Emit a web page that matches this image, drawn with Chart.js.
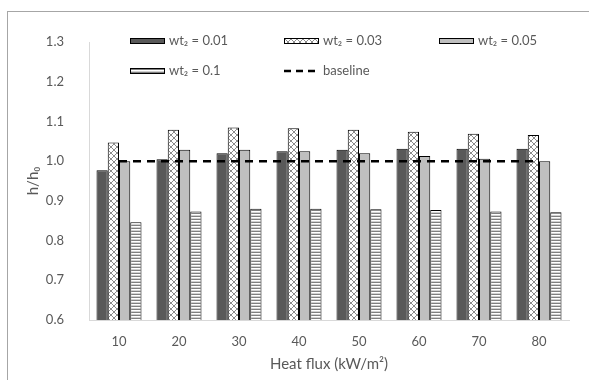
<!DOCTYPE html>
<html><head><meta charset="utf-8">
<script src="https://cdn.jsdelivr.net/npm/chart.js@4"></script>
<style>
html,body{margin:0;padding:0;overflow:hidden;background:#fff;}
#frame{position:absolute;left:7px;top:11px;width:700px;height:500px;border:1px solid #a6a6a6;}
#c{position:absolute;left:0;top:0;}
</style></head>
<body>
<div id="frame"></div>
<canvas id="c" width="589" height="380"></canvas>
<script>
const categories = ['10','20','30','40','50','60','70','80'];
const wt001 = [0.977, 1.005, 1.020, 1.025, 1.029, 1.031, 1.031, 1.031];
const wt003 = [1.047, 1.079, 1.085, 1.083, 1.079, 1.074, 1.069, 1.066];
const wt005 = [1.000, 1.029, 1.029, 1.025, 1.020, 1.013, 1.006, 1.000];
const wt01  = [0.846, 0.873, 0.880, 0.880, 0.879, 0.877, 0.873, 0.871];
const baseline = [1, 1, 1, 1, 1, 1, 1, 1];
const seriesLabels = ['wt\u2082 = 0.01','wt\u2082 = 0.03','wt\u2082 = 0.05','wt\u2082 = 0.1','baseline'];

function crossPattern(){
  const p=document.createElement('canvas');p.width=6;p.height=6;
  const g=p.getContext('2d');g.fillStyle='#fff';g.fillRect(0,0,6,6);
  g.strokeStyle='#8c8c8c';g.lineWidth=1;
  g.beginPath();g.moveTo(0,0);g.lineTo(6,6);g.moveTo(6,0);g.lineTo(0,6);g.stroke();
  return g.createPattern(p,'repeat');
}
function stripePattern(){
  const p=document.createElement('canvas');p.width=4;p.height=3;
  const g=p.getContext('2d');
  g.fillStyle='#fff';g.fillRect(0,0,4,3);
  g.fillStyle='#7f7f7f';g.fillRect(0,0,4,1);
  g.fillStyle='#d0d0d0';g.fillRect(0,2,4,1);
  return g.createPattern(p,'repeat');
}
const cross=crossPattern(), stripe=stripePattern();
const txt='#595959';
const FONT='Lato, "Open Sans", sans-serif';

const legendPlugin={
  id:'customLegend',
  afterDraw(chart){
    const ctx=chart.ctx;
    const pos=[[130,41],[284,41],[439,41],[130,71],[284,71]];
    const ds=chart.data.datasets;
    ctx.save();
    ctx.font='13px '+FONT;ctx.textBaseline='middle';ctx.textAlign='left';
    ds.forEach((d,i)=>{
      const [x,y]=pos[i];
      if(d.type==='line'){
        ctx.strokeStyle='#000';ctx.lineWidth=2.5;ctx.setLineDash([7,5]);
        ctx.beginPath();ctx.moveTo(x,y);ctx.lineTo(x+35,y);ctx.stroke();ctx.setLineDash([]);
      } else {
        ctx.fillStyle=d.backgroundColor;ctx.fillRect(x,y-3,35,6);
        ctx.strokeStyle='#000';ctx.lineWidth=1;ctx.strokeRect(x+0.5,y-2.5,34,5);
      }
      ctx.fillStyle=txt;ctx.fillText(d.label,x+39,y);
    });
    ctx.restore();
  }
};

new Chart(document.getElementById('c'),{
  data:{
    labels:categories,
    datasets:[
      {type:'bar',label:seriesLabels[0],data:wt001,backgroundColor:'#595959',borderColor:'#000',borderWidth:1,order:2},
      {type:'bar',label:seriesLabels[1],data:wt003,backgroundColor:cross,borderColor:'#000',borderWidth:1,order:2},
      {type:'bar',label:seriesLabels[2],data:wt005,backgroundColor:'#bfbfbf',borderColor:'#000',borderWidth:1,order:2},
      {type:'bar',label:seriesLabels[3],data:wt01,backgroundColor:stripe,borderColor:'#000',borderWidth:1,order:2},
      {type:'line',label:seriesLabels[4],data:baseline,borderColor:'#000',borderWidth:2.5,borderDash:[8,6],pointRadius:0,fill:false,order:1}
    ]
  },
  options:{
    responsive:false,animation:false,devicePixelRatio:1,
    layout:{padding:{left:0,right:20,top:42,bottom:7}},
    datasets:{bar:{categoryPercentage:0.75,barPercentage:1}},
    plugins:{legend:{display:false},tooltip:{enabled:false}},
    scales:{
      x:{
        grid:{display:false,drawTicks:false},
        border:{display:true,color:'#d9d9d9',width:1},
        ticks:{color:txt,font:{family:FONT,size:13},padding:14},
        title:{display:true,text:'Heat flux (kW/m\u00b2)',color:txt,font:{family:FONT,size:15},padding:{top:4,bottom:0}},
        afterFit(s){s.height=53;}
      },
      y:{
        min:0.6,max:1.3,
        grid:{display:false,drawTicks:false},
        border:{display:true,color:'#d9d9d9',width:1},
        ticks:{stepSize:0.1,color:txt,font:{family:FONT,size:13},padding:25,callback:v=>Number(v).toFixed(1)},
        title:{display:true,text:'h/h\u2080',color:txt,font:{family:FONT,size:15},padding:{top:24,bottom:0}},
        afterFit(s){s.width=89;}
      }
    }
  },
  plugins:[legendPlugin]
});
</script>
</body></html>
